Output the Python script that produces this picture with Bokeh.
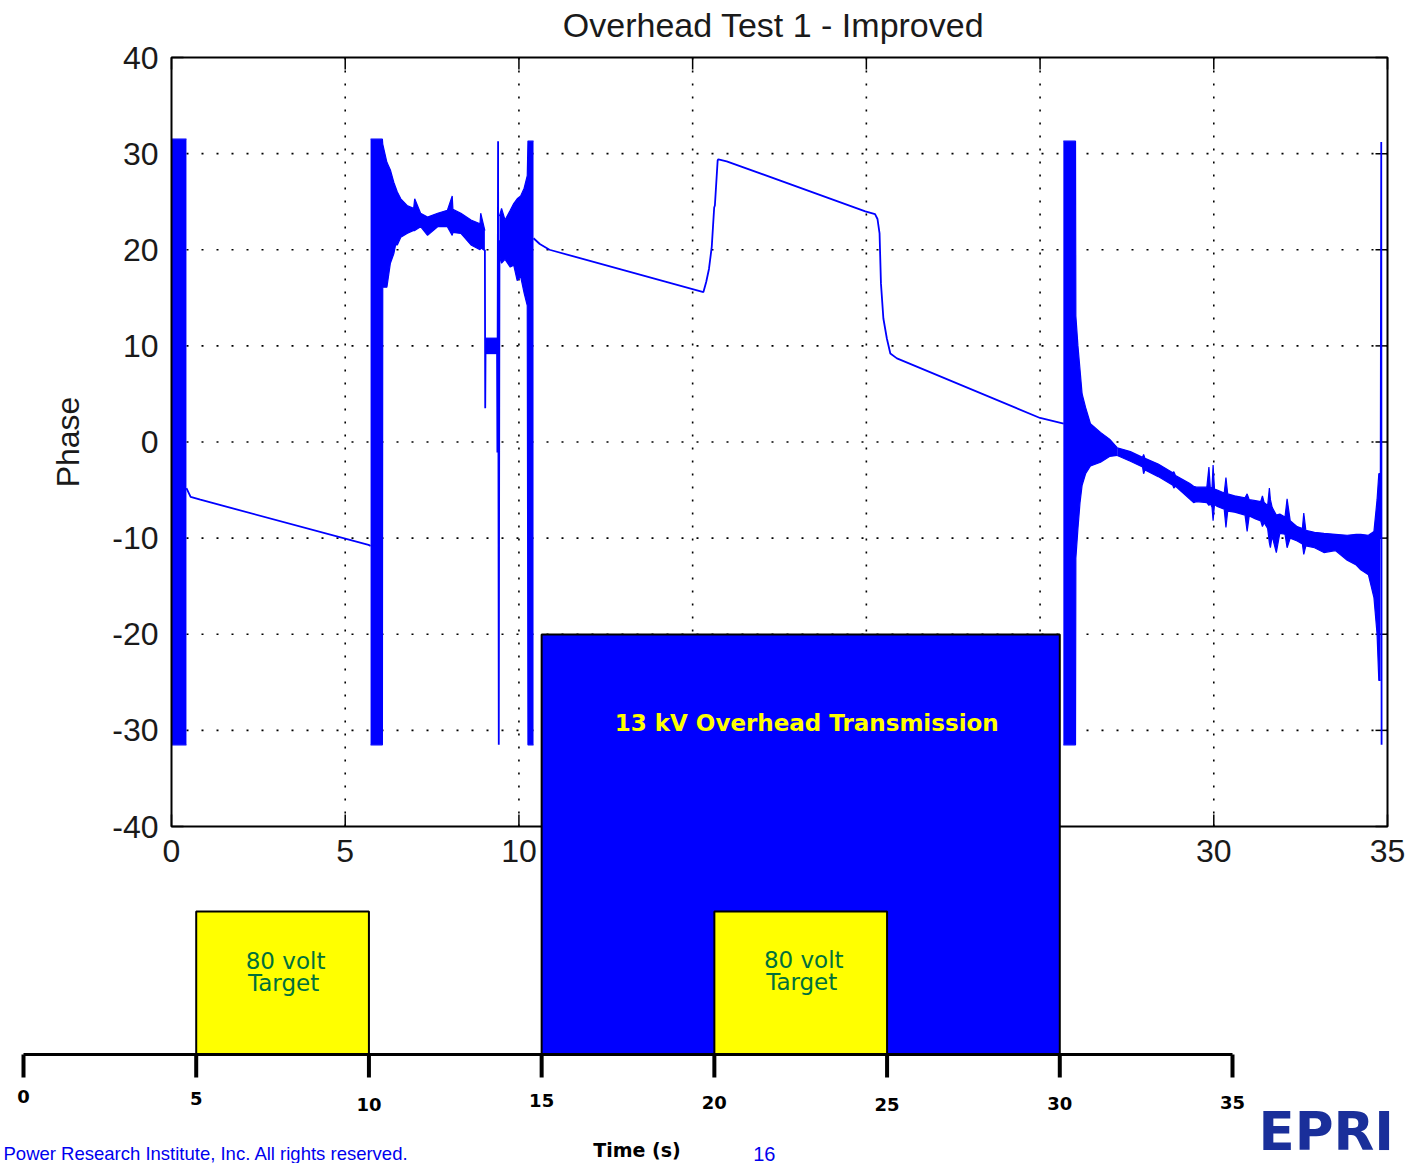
import math
from bokeh.plotting import figure
from bokeh.models import Range1d
from bokeh.core.properties import value
from bokeh.embed import file_html
from bokeh.resources import INLINE

NaN = float("nan")

# ---------------- data ----------------
chart_title = "Overhead Test 1 - Improved"
y_axis_title = "Phase"
x_limits = [0, 35]
y_limits = [-40, 40]
x_tick_values = [0, 5, 10, 15, 20, 25, 30, 35]
x_tick_labels = ["0", "5", "10", "15", "20", "25", "30", "35"]
y_tick_values = [-40, -30, -20, -10, 0, 10, 20, 30, 40]
y_tick_labels = ["-40", "-30", "-20", "-10", "0", "10", "20", "30", "40"]

# thin parts of the phase trace (time in s, phase)
trace1_t = [0.43, 0.55, 0.83, 5.67, 5.73]
trace1_y = [-4.8, -5.7, -6.0, -10.7, -10.8]
trace2_t = [9.02, 9.03, 9.04]
trace2_y = [20.0, 3.5, 10.0]
trace3_t = [9.37, 9.38, 9.40, 9.42, 9.44]
trace3_y = [10.0, -1.1, 31.3, -31.5, 21.0]
trace4_t = [10.42, 10.60, 10.88, 15.31, 15.39, 15.47, 15.55, 15.62, 15.64, 15.72, 15.74,
            15.98, 19.97, 20.25, 20.32, 20.38, 20.42, 20.49, 20.59, 20.69, 20.88, 25.00, 25.68]
trace4_y = [21.2, 20.6, 20.0, 15.6, 16.65, 18.0, 20.3, 24.4, 24.6, 29.3, 29.4,
            29.2, 24.0, 23.7, 23.2, 21.7, 16.5, 12.85, 10.77, 9.2, 8.7, 2.5, 1.9]
trace5_t = [34.80, 34.82, 34.83]
trace5_y = [-10.0, 31.2, -31.5]

# dense oscillation envelopes (time, upper, lower)
bandA_t = [0.0, 0.43]
bandA_hi = [31.5, 31.5]
bandA_lo = [-31.5, -31.5]

bandB_t = [5.73, 6.07, 6.08, 6.20, 6.30, 6.40, 6.45, 6.50, 6.60, 6.78, 6.97, 7.00,
           7.17, 7.37, 7.66, 7.94, 8.08, 8.10, 8.33, 8.62, 8.88, 8.90, 9.02]
bandB_hi = [31.5, 31.5, 31.0, 29.1, 28.3, 27.0, 26.5, 26.0, 25.3, 24.6, 24.3, 25.3,
            23.8, 23.4, 23.8, 24.1, 25.6, 24.2, 23.8, 23.1, 22.7, 23.8, 22.0]
bandB_lo = [-31.5, -31.5, 16.1, 16.1, 18.6, 19.6, 20.5, 20.5, 21.3, 21.7, 22.0, 22.0,
            22.4, 21.5, 22.4, 22.4, 21.5, 21.8, 21.7, 20.5, 20.0, 20.2, 19.9]

bandC_t = [9.04, 9.37]
bandC_hi = [10.8, 10.8]
bandC_lo = [9.2, 9.2]

bandD_t = [9.44, 9.50, 9.60, 9.75, 9.85, 9.95, 10.05, 10.15, 10.24, 10.26, 10.42]
bandD_hi = [23.5, 24.3, 23.1, 24.1, 24.8, 25.3, 25.6, 26.4, 27.7, 31.3, 31.3]
bandD_lo = [19.3, 18.6, 19.0, 18.2, 18.4, 16.8, 17.2, 15.5, 14.2, -31.5, -31.5]

bandE_t = [25.67, 26.02, 26.03, 26.09, 26.15, 26.21, 26.31, 26.45, 26.74, 27.00, 27.22]
bandE_hi = [31.3, 31.3, 13.1, 10.0, 7.5, 5.0, 3.6, 1.9, 1.0, 0.3, -0.6]
bandE_lo = [-31.5, -31.5, -12.1, -9.0, -6.3, -4.5, -3.3, -2.5, -2.1, -1.5, -1.4]

# (time, upper, lower) of the noisy tail
bandF_rows = [
    (27.22, -0.6, -1.4), (27.60, -1.0, -2.0), (27.95, -1.6, -2.6), (27.98, -1.3, -3.3),
    (28.02, -1.7, -2.9), (28.40, -2.3, -3.6), (28.82, -3.2, -4.5), (28.85, -3.1, -4.8),
    (28.90, -3.5, -4.6), (29.30, -4.3, -5.9), (29.42, -4.6, -6.3), (29.50, -4.7, -6.2),
    (29.80, -4.7, -6.3), (29.86, -2.6, -6.6), (29.90, -4.8, -6.4), (29.95, -4.7, -6.8),
    (29.98, -2.4, -8.2), (30.02, -4.9, -6.5), (30.10, -5.0, -6.7), (30.30, -5.3, -7.0),
    (30.35, -3.7, -8.9), (30.40, -5.4, -7.2), (30.60, -5.6, -7.3), (30.90, -5.8, -7.6),
    (30.96, -5.4, -9.3), (31.02, -6.0, -7.7), (31.20, -6.1, -8.0), (31.35, -6.2, -8.2),
    (31.40, -5.6, -8.8), (31.45, -6.3, -8.4), (31.55, -6.6, -9.0), (31.60, -4.8, -10.5),
    (31.63, -6.0, -11.0), (31.68, -6.8, -9.8), (31.80, -7.6, -11.5), (31.90, -7.5, -9.5),
    (32.05, -7.8, -9.6), (32.11, -5.9, -11.0), (32.20, -8.2, -10.0), (32.40, -8.8, -10.3),
    (32.55, -9.0, -10.6), (32.59, -7.4, -11.7), (32.65, -9.2, -10.8), (32.90, -9.4, -11.0),
    (33.17, -9.5, -11.5), (33.50, -9.6, -11.3), (33.84, -9.7, -12.3), (34.10, -9.6, -12.8),
    (34.23, -9.6, -13.3), (34.45, -9.7, -13.8), (34.61, -9.3, -16.2), (34.70, -6.0, -20.0),
    (34.75, -3.3, -24.8), (34.80, -3.3, -24.8),
]
bandF_t = [r[0] for r in bandF_rows]
bandF_hi = [r[1] for r in bandF_rows]
bandF_lo = [r[2] for r in bandF_rows]

# timeline overlay
timeline_ticks = [0, 5, 10, 15, 20, 25, 30, 35]
timeline_labels = ["0", "5", "10", "15", "20", "25", "30", "35"]
timeline_title = "Time (s)"
transmission_start = [15]
transmission_end = [30]
transmission_label = "13 kV Overhead Transmission"
target_start = [5, 20]
target_end = [10, 25]
target_line1 = "80 volt"
target_line2 = "Target"
footer_text = "Power Research Institute, Inc. All rights reserved."
page_number = "16"
logo_text = "EPRI"

# ---------------- geometry (pixels) ----------------
W, H = 1406, 1163
AX_L, AX_R, AX_T, AX_B = 171, 1387, 57, 826
TL_L, TL_R, TL_Y = 23, 1232, 1054

sx = (AX_R - AX_L) / (x_limits[1] - x_limits[0])
sy = (AX_B - AX_T) / (y_limits[1] - y_limits[0])
x_rng = Range1d(x_limits[0] - AX_L / sx, x_limits[0] + (W - AX_L) / sx)
y_rng = Range1d(y_limits[1] - (H - AX_T) / sy, y_limits[1] + AX_T / sy)

stx = (TL_R - TL_L) / (timeline_ticks[-1] - timeline_ticks[0])
tl_x = Range1d(timeline_ticks[0] - TL_L / stx, timeline_ticks[0] + (W - TL_L) / stx)
tl_y = Range1d(-(H - TL_Y), TL_Y)   # pixels above the timeline line

p = figure(width=W, height=H, x_range=x_rng, y_range=y_rng, title=None,
           output_backend="svg", toolbar_location=None,
           x_axis_location=None, y_axis_location=None, min_border=0,
           outline_line_color=None, background_fill_color="white",
           border_fill_color="white")
p.grid.visible = False
p.extra_x_ranges = {"tl": tl_x}
p.extra_y_ranges = {"tl": tl_y}

MAIN_FONT = value("Liberation Sans")

# ---------- MATLAB-like axes ----------
gx = [v for v in x_tick_values if x_limits[0] < v < x_limits[1]]
gy = [v for v in y_tick_values if y_limits[0] < v < y_limits[1]]
p.segment(x0=gx, y0=[y_limits[0]] * len(gx), x1=gx, y1=[y_limits[1]] * len(gx),
          line_color="black", line_width=1.6, line_dash="2 11")
p.segment(x0=[x_limits[0]] * len(gy), y0=gy, x1=[x_limits[1]] * len(gy), y1=gy,
          line_color="black", line_width=1.6, line_dash="2 13")

tick_len_px = 12
tx = tick_len_px / sy
ty = tick_len_px / sx
p.segment(x0=x_tick_values, y0=[y_limits[0]] * 8, x1=x_tick_values,
          y1=[y_limits[0] + tx] * 8, line_color="black", line_width=1.5)
p.segment(x0=x_tick_values, y0=[y_limits[1]] * 8, x1=x_tick_values,
          y1=[y_limits[1] - tx] * 8, line_color="black", line_width=1.5)
p.segment(x0=[x_limits[0]] * 9, y0=y_tick_values, x1=[x_limits[0] + ty] * 9,
          y1=y_tick_values, line_color="black", line_width=1.5)
p.segment(x0=[x_limits[1]] * 9, y0=y_tick_values, x1=[x_limits[1] - ty] * 9,
          y1=y_tick_values, line_color="black", line_width=1.5)

# tick labels
p.text(x=[x_limits[0]] * len(y_tick_values), y=y_tick_values, text=y_tick_labels,
       text_font=MAIN_FONT, text_font_size="32px", text_color="#1a1a1a",
       text_align="right", text_baseline="middle", x_offset=-13)
p.text(x=x_tick_values, y=[y_limits[0]] * len(x_tick_values), text=x_tick_labels,
       text_font=MAIN_FONT, text_font_size="32px", text_color="#1a1a1a",
       text_align="center", text_baseline="top", y_offset=13)

# title & y label
p.text(x=[(x_limits[0] + x_limits[1]) / 2], y=[y_limits[1]], text=[chart_title],
       text_font=MAIN_FONT, text_font_size="34px", text_color="#1a1a1a",
       text_align="center", text_baseline="middle", y_offset=-33, x_offset=-6)
p.text(x=[x_limits[0]], y=[0], text=[y_axis_title], angle=math.pi / 2,
       text_font=MAIN_FONT, text_font_size="32px", text_color="#1a1a1a",
       text_align="center", text_baseline="middle", x_offset=-104)

# ---------- the phase signal ----------
BLUE = "#0000ff"
for bt, bh, bl in [(bandA_t, bandA_hi, bandA_lo), (bandB_t, bandB_hi, bandB_lo),
                   (bandC_t, bandC_hi, bandC_lo), (bandD_t, bandD_hi, bandD_lo),
                   (bandE_t, bandE_hi, bandE_lo), (bandF_t, bandF_hi, bandF_lo)]:
    p.varea(x=bt, y1=bl, y2=bh, fill_color=BLUE)
    p.line(x=bt, y=bh, line_color=BLUE, line_width=1.2)
    p.line(x=bt, y=bl, line_color=BLUE, line_width=1.2)

trace_t, trace_y = [], []
for tt, yy in [(trace1_t, trace1_y), (trace2_t, trace2_y), (trace3_t, trace3_y),
               (trace4_t, trace4_y), (trace5_t, trace5_y)]:
    trace_t += tt + [NaN]
    trace_y += yy + [NaN]
p.line(x=trace_t, y=trace_y, line_color=BLUE, line_width=1.8)

# axes box on top
p.quad(left=[x_limits[0]], right=[x_limits[1]], bottom=[y_limits[0]], top=[y_limits[1]],
       fill_color=None, line_color="black", line_width=2)

# ---------- slide overlay (timeline) ----------
BOX_H_TRANS = 420
BOX_H_TARGET = 143
p.quad(left=transmission_start, right=transmission_end, bottom=[0], top=[BOX_H_TRANS],
       fill_color="#0000ff", line_color="black", line_width=2,
       x_range_name="tl", y_range_name="tl")
p.quad(left=target_start, right=target_end, bottom=[0] * 2, top=[BOX_H_TARGET] * 2,
       fill_color="#ffff00", line_color="black", line_width=2,
       x_range_name="tl", y_range_name="tl")

p.text(x=[(transmission_start[0] + transmission_end[0]) / 2], y=[BOX_H_TRANS - 88],
       text=[transmission_label], text_font=value("DejaVu Sans"), text_font_style="bold",
       text_font_size="23px", text_color="#ffff00", text_align="center",
       text_baseline="middle", x_offset=6, x_range_name="tl", y_range_name="tl")
tcx = [(a + b) / 2 for a, b in zip(target_start, target_end)]
p.text(x=tcx, y=[94, 95], text=[target_line1] * 2, text_font=value("DejaVu Sans"),
       text_font_size="23px", text_color="#00703c", text_align="center",
       text_baseline="middle", x_offset=3, x_range_name="tl", y_range_name="tl")
p.text(x=tcx, y=[72, 73], text=[target_line2] * 2, text_font=value("DejaVu Sans"),
       text_font_size="23px", text_color="#00703c", text_align="center",
       text_baseline="middle", x_offset=1, x_range_name="tl", y_range_name="tl")

# timeline axis
p.segment(x0=[timeline_ticks[0]], y0=[0], x1=[timeline_ticks[-1]], y1=[0],
          line_color="black", line_width=3, x_range_name="tl", y_range_name="tl")
p.segment(x0=timeline_ticks, y0=[0] * 8, x1=timeline_ticks, y1=[-23] * 8,
          line_color="black", line_width=4, x_range_name="tl", y_range_name="tl")
label_drop = [42, 44, 50, 46, 48, 50, 49, 48]
p.text(x=timeline_ticks, y=[-d for d in label_drop], text=timeline_labels,
       text_font=value("DejaVu Sans"), text_font_style="bold", text_font_size="18px",
       text_color="black", text_align="center", text_baseline="middle",
       x_range_name="tl", y_range_name="tl")
p.text(x=[(timeline_ticks[0] + timeline_ticks[-1]) / 2], y=[-95], text=[timeline_title],
       text_font=value("DejaVu Sans"), text_font_style="bold", text_font_size="19px",
       text_color="black", text_align="center", text_baseline="middle", x_offset=9,
       x_range_name="tl", y_range_name="tl")

# footer
p.text(x=[timeline_ticks[0]], y=[-99], text=[footer_text], text_font=MAIN_FONT,
       text_font_size="18.5px", text_color="#0000ee", text_align="left",
       text_baseline="middle", x_offset=-20, x_range_name="tl", y_range_name="tl")
p.text(x=[timeline_ticks[4]], y=[-99], text=[page_number], text_font=MAIN_FONT,
       text_font_size="20px", text_color="#0000ee", text_align="center",
       text_baseline="middle", x_offset=50, x_range_name="tl", y_range_name="tl")
p.text(x=[timeline_ticks[-1]], y=[-77], text=[logo_text], text_font=value("DejaVu Sans"),
       text_font_style="bold", text_font_size="53px", text_color="#1a2f9a",
       text_align="left", text_baseline="middle", x_offset=26,
       x_range_name="tl", y_range_name="tl")

open("out.html", "w").write(file_html(p, INLINE))
